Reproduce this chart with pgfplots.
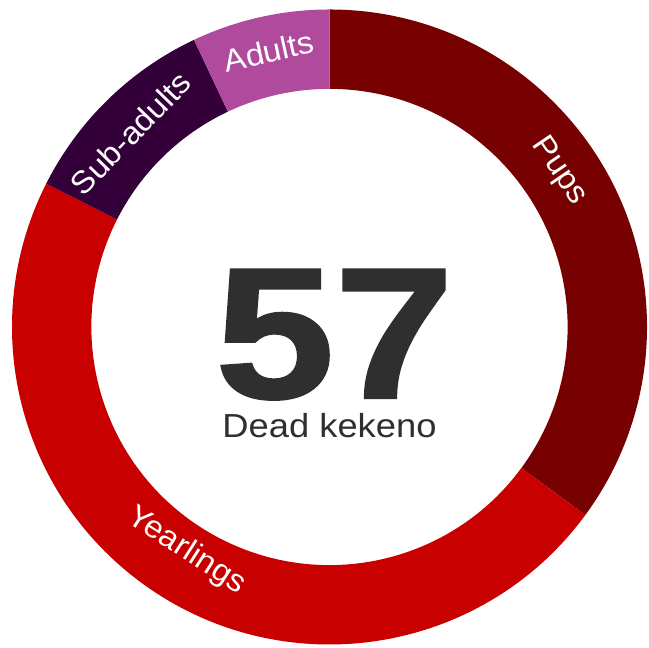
\documentclass[border=0pt]{standalone}
\usepackage{pgfplots}
\pgfplotsset{compat=1.18}
\usepackage{fontspec}
\setmainfont{Liberation Sans}
\newfontfamily\heavyfont[FakeBold=1.2]{Liberation Sans Bold}
\definecolor{cPups}{HTML}{770000}
\definecolor{cYear}{HTML}{C80000}
\definecolor{cSub}{HTML}{33003A}
\definecolor{cAdult}{HTML}{B04A9C}
\definecolor{cText}{HTML}{2F2F2F}
% data
\def\nPups{20}
\def\nYear{27}
\def\nSub{6}
\def\nAdult{4}
\pgfmathsetmacro\total{\nPups+\nYear+\nSub+\nAdult}
\pgfmathsetmacro\aA{90}
\pgfmathsetmacro\aB{\aA-360*\nPups/\total}
\pgfmathsetmacro\aC{\aB-360*\nYear/\total}
\pgfmathsetmacro\aD{\aC-360*\nSub/\total}
\pgfmathsetmacro\aE{\aD-360*\nAdult/\total}
\newcommand\sector[3]{%
  \fill[#3] (axis cs:{cos(#1)},{sin(#1)}) arc[start angle=#1,end angle=#2,radius=238.125pt]
    -- (axis cs:{0.75*cos(#2)},{0.75*sin(#2)}) arc[start angle=#2,end angle=#1,radius=178.594pt] -- cycle;}
\newcommand\seglabel[4]{% radius, angle, rotation, text
  \node[white,font=\fontsize{23.5}{23.5}\selectfont,rotate=#3,anchor=mid,inner sep=0pt]
    at (axis cs:{#1*cos(#2)},{#1*sin(#2)}) {\scalebox{1.05}[1]{#4}};}
\begin{document}
\begin{tikzpicture}
\begin{axis}[
  name=ax,
  hide axis,
  xtick=\empty, ytick=\empty,
  x=238.125pt, y=238.125pt,
  xmin=-1.0378, xmax=1.0063,
  ymin=-1.0110, ymax=1.0299,
  clip=false,
]
\sector{\aA}{\aB}{cPups}
\sector{\aB}{\aC}{cYear}
\sector{\aC}{\aD}{cSub}
\sector{\aD}{\aE}{cAdult}
\seglabel{0.862}{34.2}{-55.8}{Pups}
\seglabel{0.852}{237.4}{-32.6}{Yearlings}
\seglabel{0.850}{135.8}{45.8}{Sub-adults}
\seglabel{0.865}{102.4}{12.4}{Adults}
\node[cText,anchor=base,inner sep=0pt] at (axis cs:0.0157,-0.2236)
  {\scalebox{1.15}[1]{\heavyfont\fontsize{140}{140}\selectfont 57}};
\node[cText,anchor=base,inner sep=0pt] at (axis cs:0,-0.3465)
  {\scalebox{1.09}[1]{\fontsize{25}{25}\selectfont Dead kekeno}};
\end{axis}
\pgfresetboundingbox
\path (ax.south west) rectangle (ax.north east);
\end{tikzpicture}
\end{document}
